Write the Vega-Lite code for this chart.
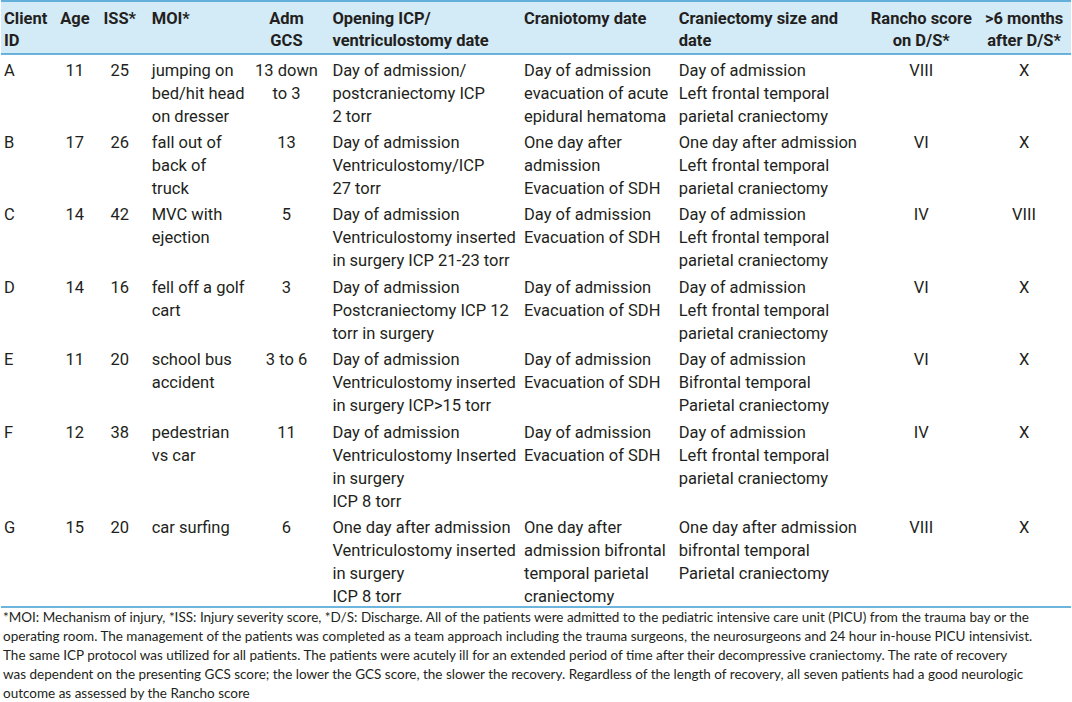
{
  "$schema": "https://vega.github.io/schema/vega-lite/v6.json",
  "width": 1072,
  "height": 702,
  "padding": 0,
  "autosize": {"type": "fit", "contains": "padding"},
  "background": "white",
  "config": {"view": {"stroke": null}},
  "datasets": {
    "cols": [
      {"col": "id", "x": 3, "anchor": "left"},
      {"col": "age", "x": 74, "anchor": "center"},
      {"col": "iss", "x": 119, "anchor": "center"},
      {"col": "moi", "x": 151, "anchor": "left"},
      {"col": "gcs", "x": 286, "anchor": "center"},
      {"col": "icp", "x": 332, "anchor": "left"},
      {"col": "craniotomy", "x": 524, "anchor": "left"},
      {"col": "craniectomy", "x": 679, "anchor": "left"},
      {"col": "rancho", "x": 922, "anchor": "center"},
      {"col": "after", "x": 1025, "anchor": "center"}
    ],
    "rows": [
      {"row": "header", "y": 24},
      {"row": "A", "y": 76},
      {"row": "B", "y": 148},
      {"row": "C", "y": 220},
      {"row": "D", "y": 293},
      {"row": "E", "y": 365},
      {"row": "F", "y": 438},
      {"row": "G", "y": 533},
      {"row": "note", "y": 622}
    ],
    "cells": [
      {"row": "header", "col": "id", "text": "Client\nID"},
      {"row": "header", "col": "age", "text": "Age"},
      {"row": "header", "col": "iss", "text": "ISS*"},
      {"row": "header", "col": "moi", "text": "MOI*"},
      {"row": "header", "col": "gcs", "text": "Adm\nGCS"},
      {"row": "header", "col": "icp", "text": "Opening ICP/\nventriculostomy date"},
      {"row": "header", "col": "craniotomy", "text": "Craniotomy date"},
      {"row": "header", "col": "craniectomy", "text": "Craniectomy size and\ndate"},
      {"row": "header", "col": "rancho", "text": "Rancho score\non D/S*"},
      {"row": "header", "col": "after", "text": ">6 months\nafter D/S*"},

      {"row": "A", "col": "id", "text": "A"},
      {"row": "A", "col": "age", "text": "11"},
      {"row": "A", "col": "iss", "text": "25"},
      {"row": "A", "col": "moi", "text": "jumping on\nbed/hit head\non dresser"},
      {"row": "A", "col": "gcs", "text": "13 down\nto 3"},
      {"row": "A", "col": "icp", "text": "Day of admission/\npostcraniectomy ICP\n2 torr"},
      {"row": "A", "col": "craniotomy", "text": "Day of admission\nevacuation of acute\nepidural hematoma"},
      {"row": "A", "col": "craniectomy", "text": "Day of admission\nLeft frontal temporal\nparietal craniectomy"},
      {"row": "A", "col": "rancho", "text": "VIII"},
      {"row": "A", "col": "after", "text": "X"},

      {"row": "B", "col": "id", "text": "B"},
      {"row": "B", "col": "age", "text": "17"},
      {"row": "B", "col": "iss", "text": "26"},
      {"row": "B", "col": "moi", "text": "fall out of\nback of\ntruck"},
      {"row": "B", "col": "gcs", "text": "13"},
      {"row": "B", "col": "icp", "text": "Day of admission\nVentriculostomy/ICP\n27 torr"},
      {"row": "B", "col": "craniotomy", "text": "One day after\nadmission\nEvacuation of SDH"},
      {"row": "B", "col": "craniectomy", "text": "One day after admission\nLeft frontal temporal\nparietal craniectomy"},
      {"row": "B", "col": "rancho", "text": "VI"},
      {"row": "B", "col": "after", "text": "X"},

      {"row": "C", "col": "id", "text": "C"},
      {"row": "C", "col": "age", "text": "14"},
      {"row": "C", "col": "iss", "text": "42"},
      {"row": "C", "col": "moi", "text": "MVC with\nejection"},
      {"row": "C", "col": "gcs", "text": "5"},
      {"row": "C", "col": "icp", "text": "Day of admission\nVentriculostomy inserted\nin surgery ICP 21-23 torr"},
      {"row": "C", "col": "craniotomy", "text": "Day of admission\nEvacuation of SDH"},
      {"row": "C", "col": "craniectomy", "text": "Day of admission\nLeft frontal temporal\nparietal craniectomy"},
      {"row": "C", "col": "rancho", "text": "IV"},
      {"row": "C", "col": "after", "text": "VIII"},

      {"row": "D", "col": "id", "text": "D"},
      {"row": "D", "col": "age", "text": "14"},
      {"row": "D", "col": "iss", "text": "16"},
      {"row": "D", "col": "moi", "text": "fell off a golf\ncart"},
      {"row": "D", "col": "gcs", "text": "3"},
      {"row": "D", "col": "icp", "text": "Day of admission\nPostcraniectomy ICP 12\ntorr in surgery"},
      {"row": "D", "col": "craniotomy", "text": "Day of admission\nEvacuation of SDH"},
      {"row": "D", "col": "craniectomy", "text": "Day of admission\nLeft frontal temporal\nparietal craniectomy"},
      {"row": "D", "col": "rancho", "text": "VI"},
      {"row": "D", "col": "after", "text": "X"},

      {"row": "E", "col": "id", "text": "E"},
      {"row": "E", "col": "age", "text": "11"},
      {"row": "E", "col": "iss", "text": "20"},
      {"row": "E", "col": "moi", "text": "school bus\naccident"},
      {"row": "E", "col": "gcs", "text": "3 to 6"},
      {"row": "E", "col": "icp", "text": "Day of admission\nVentriculostomy inserted\nin surgery ICP>15 torr"},
      {"row": "E", "col": "craniotomy", "text": "Day of admission\nEvacuation of SDH"},
      {"row": "E", "col": "craniectomy", "text": "Day of admission\nBifrontal temporal\nParietal craniectomy"},
      {"row": "E", "col": "rancho", "text": "VI"},
      {"row": "E", "col": "after", "text": "X"},

      {"row": "F", "col": "id", "text": "F"},
      {"row": "F", "col": "age", "text": "12"},
      {"row": "F", "col": "iss", "text": "38"},
      {"row": "F", "col": "moi", "text": "pedestrian\nvs car"},
      {"row": "F", "col": "gcs", "text": "11"},
      {"row": "F", "col": "icp", "text": "Day of admission\nVentriculostomy Inserted\nin surgery\nICP 8 torr"},
      {"row": "F", "col": "craniotomy", "text": "Day of admission\nEvacuation of SDH"},
      {"row": "F", "col": "craniectomy", "text": "Day of admission\nLeft frontal temporal\nparietal craniectomy"},
      {"row": "F", "col": "rancho", "text": "IV"},
      {"row": "F", "col": "after", "text": "X"},

      {"row": "G", "col": "id", "text": "G"},
      {"row": "G", "col": "age", "text": "15"},
      {"row": "G", "col": "iss", "text": "20"},
      {"row": "G", "col": "moi", "text": "car surfing"},
      {"row": "G", "col": "gcs", "text": "6"},
      {"row": "G", "col": "icp", "text": "One day after admission\nVentriculostomy inserted\nin surgery\nICP 8 torr"},
      {"row": "G", "col": "craniotomy", "text": "One day after\nadmission bifrontal\ntemporal parietal\ncraniectomy"},
      {"row": "G", "col": "craniectomy", "text": "One day after admission\nbifrontal temporal\nParietal craniectomy"},
      {"row": "G", "col": "rancho", "text": "VIII"},
      {"row": "G", "col": "after", "text": "X"},

      {"row": "note", "col": "id", "text": "*MOI: Mechanism of injury, *ISS: Injury severity score, *D/S: Discharge.  All of the patients were admitted to the pediatric intensive care unit (PICU) from the trauma bay or the\noperating room. The management of the patients was completed as a team approach including the trauma surgeons, the neurosurgeons and 24 hour in-house PICU intensivist.\nThe same ICP protocol was utilized for all patients. The patients were acutely ill for an extended period of time after their decompressive craniectomy. The rate of recovery\nwas dependent on the presenting GCS score; the lower the GCS score, the slower the recovery. Regardless of the length of recovery, all seven patients had a good neurologic\noutcome as assessed by the Rancho score"}
    ],
    "bands": [{"band": "header", "top": 0, "bottom": 54}],
    "lines": [{"line": "top", "y": 1}, {"line": "header", "y": 54}, {"line": "bottom", "y": 607}]
  },
  "layer": [
    {
      "data": {"name": "bands"},
      "mark": {"type": "rect", "color": "#d3eaf7"},
      "encoding": {
        "x": {"datum": 0, "type": "quantitative", "scale": {"domain": [0, 1072], "nice": false, "zero": false}, "axis": null},
        "x2": {"datum": 1072},
        "y": {"field": "top", "type": "quantitative", "scale": {"domain": [0, 702], "nice": false, "zero": false, "reverse": true}, "axis": null},
        "y2": {"field": "bottom"}
      }
    },
    {
      "data": {"name": "lines"},
      "mark": {"type": "rule", "color": "#3d9dd1", "strokeWidth": 1.5},
      "encoding": {
        "x": {"datum": 0, "type": "quantitative"},
        "x2": {"datum": 1072},
        "y": {"field": "y", "type": "quantitative"}
      }
    },
    {
      "data": {"name": "cells"},
      "transform": [
        {"filter": "datum.row === 'header'"},
        {"lookup": "col", "from": {"data": {"name": "cols"}, "key": "col", "fields": ["x", "anchor"]}},
        {"lookup": "row", "from": {"data": {"name": "rows"}, "key": "row", "fields": ["y"]}},
        {"filter": "datum.anchor === 'left'"}
      ],
      "mark": {"type": "text", "align": "left", "baseline": "alphabetic", "lineBreak": "\n", "lineHeight": 22, "font": "Roboto", "fontWeight": "bold", "fontSize": 16.5, "color": "#231f20"},
      "encoding": {
        "x": {"field": "x", "type": "quantitative"},
        "y": {"field": "y", "type": "quantitative"},
        "text": {"field": "text", "type": "nominal"}
      }
    },
    {
      "data": {"name": "cells"},
      "transform": [
        {"filter": "datum.row === 'header'"},
        {"lookup": "col", "from": {"data": {"name": "cols"}, "key": "col", "fields": ["x", "anchor"]}},
        {"lookup": "row", "from": {"data": {"name": "rows"}, "key": "row", "fields": ["y"]}},
        {"filter": "datum.anchor === 'center'"}
      ],
      "mark": {"type": "text", "align": "center", "baseline": "alphabetic", "lineBreak": "\n", "lineHeight": 22, "font": "Roboto", "fontWeight": "bold", "fontSize": 16.5, "color": "#231f20"},
      "encoding": {
        "x": {"field": "x", "type": "quantitative"},
        "y": {"field": "y", "type": "quantitative"},
        "text": {"field": "text", "type": "nominal"}
      }
    },
    {
      "data": {"name": "cells"},
      "transform": [
        {"filter": "datum.row !== 'header' && datum.row !== 'note'"},
        {"lookup": "col", "from": {"data": {"name": "cols"}, "key": "col", "fields": ["x", "anchor"]}},
        {"lookup": "row", "from": {"data": {"name": "rows"}, "key": "row", "fields": ["y"]}},
        {"filter": "datum.anchor === 'left'"}
      ],
      "mark": {"type": "text", "align": "left", "baseline": "alphabetic", "lineBreak": "\n", "lineHeight": 23, "font": "Roboto", "fontSize": 16.5, "color": "#231f20"},
      "encoding": {
        "x": {"field": "x", "type": "quantitative"},
        "y": {"field": "y", "type": "quantitative"},
        "text": {"field": "text", "type": "nominal"}
      }
    },
    {
      "data": {"name": "cells"},
      "transform": [
        {"filter": "datum.row !== 'header' && datum.row !== 'note'"},
        {"lookup": "col", "from": {"data": {"name": "cols"}, "key": "col", "fields": ["x", "anchor"]}},
        {"lookup": "row", "from": {"data": {"name": "rows"}, "key": "row", "fields": ["y"]}},
        {"filter": "datum.anchor === 'center'"}
      ],
      "mark": {"type": "text", "align": "center", "baseline": "alphabetic", "lineBreak": "\n", "lineHeight": 23, "font": "Roboto", "fontSize": 16.5, "color": "#231f20"},
      "encoding": {
        "x": {"field": "x", "type": "quantitative"},
        "y": {"field": "y", "type": "quantitative"},
        "text": {"field": "text", "type": "nominal"}
      }
    },
    {
      "data": {"name": "cells"},
      "transform": [
        {"filter": "datum.row === 'note'"},
        {"lookup": "row", "from": {"data": {"name": "rows"}, "key": "row", "fields": ["y"]}}
      ],
      "mark": {"type": "text", "align": "left", "baseline": "alphabetic", "lineBreak": "\n", "lineHeight": 19, "font": "Lato", "fontSize": 13.5, "color": "#231f20"},
      "encoding": {
        "x": {"datum": 2, "type": "quantitative"},
        "y": {"field": "y", "type": "quantitative"},
        "text": {"field": "text", "type": "nominal"}
      }
    }
  ]
}
